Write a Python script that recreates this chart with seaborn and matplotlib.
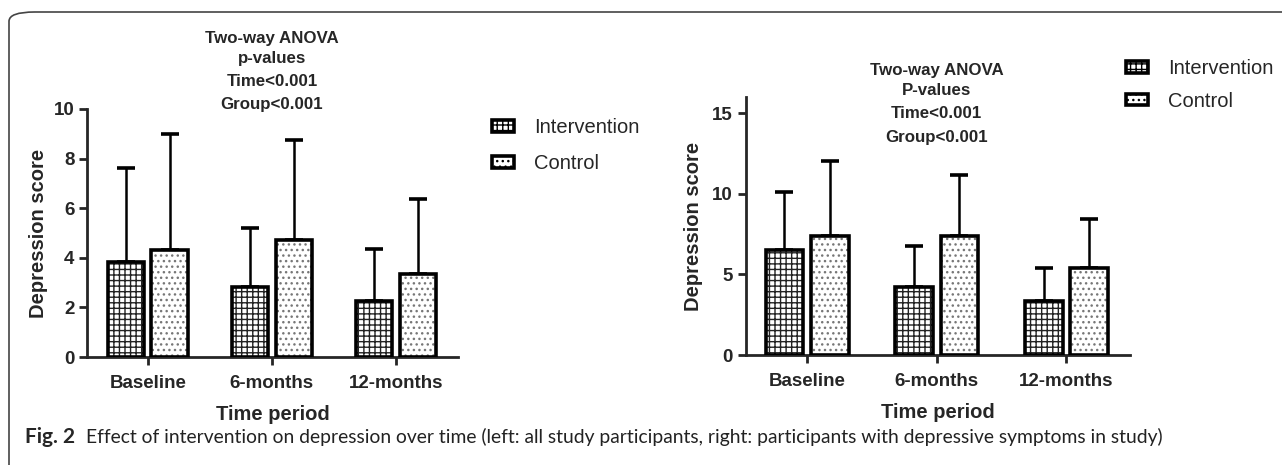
import pandas as pd
import matplotlib
matplotlib.use('Agg')
import matplotlib.pyplot as plt
import matplotlib.transforms as mtransforms
from matplotlib.patches import Patch, FancyBboxPatch
import seaborn as sns

# data (mean and upper SD whisker)
time_points = ['Baseline', '6-months', '12-months']
groups = ['Intervention', 'Control']

all_int_mean = [3.84, 2.81, 2.27]
all_int_sd = [3.80, 2.40, 2.08]
all_ctl_mean = [4.32, 4.70, 3.36]
all_ctl_sd = [4.66, 4.04, 3.03]

dep_int_mean = [6.52, 4.20, 3.35]
dep_int_sd = [3.58, 2.59, 2.05]
dep_ctl_mean = [7.35, 7.39, 5.42]
dep_ctl_sd = [4.71, 3.80, 3.02]

anova_left = ['Two-way ANOVA', 'p-values', 'Time<0.001', 'Group<0.001']
anova_right = ['Two-way ANOVA', 'P-values', 'Time<0.001', 'Group<0.001']

sns.set_style('ticks')
plt.rcParams['font.family'] = ['Liberation Sans', 'DejaVu Sans']
plt.rcParams['hatch.linewidth'] = 1.0

W, H = 1282, 465
fig = plt.figure(figsize=(W / 100, H / 100), dpi=100)

hatches = {'Intervention': '+++', 'Control': '...'}
hatch_colors = {'Intervention': '#222222', 'Control': '#777777'}


def draw_panel(ax, int_mean, int_sd, ctl_mean, ctl_sd, ylim, yticks, xlim, ypad):
    df = pd.DataFrame({
        'time': time_points * 2,
        'group': ['Intervention'] * 3 + ['Control'] * 3,
        'mean': int_mean + ctl_mean,
        'sd': int_sd + ctl_sd,
    })
    # hatched fill
    sns.barplot(data=df, x='time', y='mean', hue='group', order=time_points,
                hue_order=groups, width=0.7, gap=0.17, errorbar=None,
                palette=['white', 'white'], linewidth=0,
                legend=False, ax=ax)
    fills = list(ax.patches)
    for i, p in enumerate(fills):
        g = groups[i // 3]
        p.set_edgecolor(hatch_colors[g])
        p.set_linewidth(0)
        p.set_hatch(hatches[g])
        p.set_zorder(2)
    # thick black outline
    sns.barplot(data=df, x='time', y='mean', hue='group', order=time_points,
                hue_order=groups, width=0.7, gap=0.17, errorbar=None,
                palette=['black', 'black'], fill=False, linewidth=2.6,
                legend=False, ax=ax)
    for p in ax.patches[len(fills):]:
        p.set_zorder(3)
    # upper-only error bars
    for i, p in enumerate(fills):
        g = groups[i // 3]
        sub = df[df['group'] == g].reset_index(drop=True)
        t = i % 3
        xc = p.get_x() + p.get_width() / 2
        ax.errorbar(xc, sub['mean'][t], yerr=[[0], [sub['sd'][t]]],
                    fmt='none', ecolor='black', elinewidth=1.8,
                    capsize=6.5, capthick=2.6, zorder=1)
    ax.set_ylim(*ylim)
    ax.set_yticks(yticks)
    ax.set_xlim(*xlim)
    for s in ['top', 'right']:
        ax.spines[s].set_visible(False)
    for s in ['left', 'bottom']:
        ax.spines[s].set_linewidth(2)
    ax.tick_params(axis='both', width=2, length=6, labelsize=13.5, pad=3)
    ax.tick_params(axis='x', pad=7)
    for lab in ax.get_xticklabels() + ax.get_yticklabels():
        lab.set_fontweight('bold')
    ax.set_xlabel('Time period', fontsize=14.5, fontweight='bold', labelpad=9)
    ax.set_ylabel('Depression score', fontsize=14.5, fontweight='bold', labelpad=ypad)


ax1 = fig.add_axes([87 / W, 1 - 357 / H, 371 / W, 248 / H])
draw_panel(ax1, all_int_mean, all_int_sd, all_ctl_mean, all_ctl_sd,
           (0, 10), [0, 2, 4, 6, 8, 10], (-0.49, 2.5), 4)

ax2 = fig.add_axes([745.5 / W, 1 - 355 / H, 384.5 / W, 258 / H])
draw_panel(ax2, dep_int_mean, dep_int_sd, dep_ctl_mean, dep_ctl_sd,
           (0, 16), [0, 5, 10, 15], (-0.475, 2.49), 7)

# ANOVA text blocks centred over the 6-months tick
for ax, lines, ys in [(ax1, anova_left, [39, 58, 82, 105]),
                      (ax2, anova_right, [70, 90, 113, 137])]:
    tr = mtransforms.blended_transform_factory(ax.transData, fig.transFigure)
    for txt, y in zip(lines, ys):
        ax.text(1, 1 - y / H, txt, transform=tr, ha='center', va='center',
                fontsize=12.2, fontweight='bold', clip_on=False)

# legends
for x0, y0, gap in [(492, 118, 0.85), (1126, 59, 0.68)]:
    handles = [Patch(facecolor='white', edgecolor='black', hatch=hatches[g],
                     linewidth=2.6, label=g) for g in groups]
    fig.legend(handles=handles, loc='upper left',
               bbox_to_anchor=(x0 / W, 1 - y0 / H), frameon=False,
               fontsize=14.5, handlelength=1.1, handleheight=0.5,
               handletextpad=1.0, labelspacing=gap, borderaxespad=0,
               borderpad=0)

# figure frame and caption
frame = FancyBboxPatch((9 / W, -20 / H), 1400 / W, (465 - 12 + 20) / H,
                       boxstyle='round,pad=0,rounding_size=0.02',
                       transform=fig.transFigure, facecolor='none',
                       edgecolor='#444444', linewidth=1.2, clip_on=False)
fig.patches.append(frame)

fig.text(25 / W, 1 - 437 / H, 'Fig. 2', fontsize=15, fontweight='bold',
         family=['Lato', 'DejaVu Sans'], va='center', ha='left')
fig.text(86 / W, 1 - 437 / H,
         'Effect of intervention on depression over time (left: all study participants, '
         'right: participants with depressive symptoms in study)',
         fontsize=13.9, family=['Lato', 'DejaVu Sans'], va='center', ha='left',
         color='#222222')

fig.savefig('out.png', dpi=100)
